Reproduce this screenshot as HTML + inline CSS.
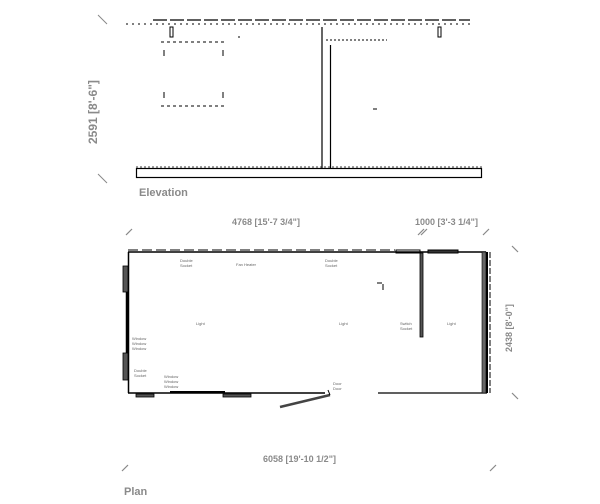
<!DOCTYPE html>
<html><head><style>
html,body{margin:0;padding:0;background:#fff;}
svg{display:block;}
text{font-family:"Liberation Sans",sans-serif;fill:#8a8a8a;font-weight:bold;}
.s{font-size:4px;fill:#666;font-weight:normal;}
</style></head><body>
<svg width="600" height="504" viewBox="0 0 600 504" xmlns="http://www.w3.org/2000/svg">
<!-- Elevation -->
<g stroke="#000" fill="none">
<path d="M153 20 H470" stroke-dasharray="14 3" stroke-width="1.2"/>
<path d="M126 24 H470" stroke-dasharray="2 4" stroke-width="1"/>
<rect x="136.5" y="168.5" width="345" height="9" stroke-width="1.2"/>
<path d="M136 167 H482" stroke-dasharray="2 2" stroke-width="0.8"/>
<line x1="322" y1="27" x2="322" y2="168" stroke-width="1.2"/>
<line x1="330.5" y1="45" x2="330.5" y2="168" stroke-width="1.2"/>
<path d="M326 40 H387" stroke-dasharray="2 2"/>
<path d="M161 42 H225 M161 106 H225" stroke-dasharray="3 3"/>
<path d="M164 50 V56 M223 50 V56 M164 92 V98 M223 92 V98"/>
<rect x="170" y="27" width="3" height="10"/>
<rect x="438" y="27" width="3" height="10"/>
<line x1="239" y1="36" x2="239" y2="38"/>
<line x1="373" y1="109" x2="377" y2="109"/>
</g>
<line x1="98" y1="15" x2="107" y2="24" stroke="#888"/>
<line x1="98" y1="174" x2="107" y2="183" stroke="#888"/>
<text x="0" y="0" font-size="12" transform="translate(97,144) rotate(-90)">2591 [8'-6"]</text>
<text x="139" y="196" font-size="11">Elevation</text>
<!-- Plan -->
<text x="232" y="225" font-size="9" font-weight="normal">4768 [15'-7 3/4"]</text>
<text x="415" y="225" font-size="9" font-weight="normal">1000 [3'-3 1/4"]</text>
<g stroke="#888" stroke-width="1.2">
<line x1="126" y1="235" x2="132" y2="229"/>
<line x1="418" y1="235" x2="424" y2="229"/><line x1="421" y1="235" x2="427" y2="229"/>
<line x1="483" y1="235" x2="489" y2="229"/>
<line x1="512" y1="246" x2="518" y2="252"/>
<line x1="512" y1="393" x2="518" y2="399"/>
<line x1="122" y1="471" x2="128" y2="465"/>
<line x1="490" y1="471" x2="496" y2="465"/>
</g>
<text x="0" y="0" font-size="9" transform="translate(512,352) rotate(-90)">2438 [8'-0"]</text>
<text x="263" y="462" font-size="9" font-weight="normal">6058 [19'-10 1/2"]</text>
<text x="124" y="495" font-size="11">Plan</text>
<g stroke="#000" fill="none">
<path d="M128 252 H486" stroke-width="1.5"/>
<path d="M128 250 H395" stroke-dasharray="10 4" stroke-width="1"/>
<path d="M128.5 252 V393" stroke-width="1.5"/>
<path d="M127 292 V353" stroke-width="2.5"/>
<path d="M128 393 H325" stroke-width="1.5"/>
<path d="M378 393 H487" stroke-width="1.2"/>
<path d="M487 252 V393" stroke-width="2"/>
<path d="M490 252 V393" stroke-width="1" stroke-dasharray="6 2"/>
<rect x="420" y="253" width="3" height="84" fill="#555" stroke-width="0.8"/>
<rect x="123" y="266" width="5" height="26" fill="#555" stroke-width="0.8"/>
<rect x="123" y="353" width="5" height="27" fill="#555" stroke-width="0.8"/>
<rect x="136" y="394" width="18" height="3" fill="#555" stroke-width="0.8"/>
<rect x="223" y="394" width="28" height="3" fill="#555" stroke-width="0.8"/>
<path d="M170 392 H225" stroke-width="2"/>
<path d="M280 407 L330 395" stroke-width="2.5" stroke="#444"/>
<path d="M330 395 L328 390"/>
<rect x="396" y="250" width="24" height="3"/>
<rect x="428" y="250" width="30" height="3" fill="#333"/>
<rect x="482" y="252" width="4" height="141" fill="#666" stroke-width="0.6"/>
<line x1="383" y1="284" x2="383" y2="290"/>
<line x1="377" y1="283" x2="382" y2="283"/>
</g>
<text class="s" x="180" y="262">Double</text><text class="s" x="180" y="267">Socket</text>
<text class="s" x="236" y="266">Fan Heater</text>
<text class="s" x="325" y="262">Double</text><text class="s" x="325" y="267">Socket</text>
<text class="s" x="196" y="325">Light</text>
<text class="s" x="339" y="325">Light</text>
<text class="s" x="400" y="325">Switch</text><text class="s" x="400" y="330">Socket</text>
<text class="s" x="447" y="325">Light</text>
<text class="s" x="132" y="340">Window</text><text class="s" x="132" y="345">Window</text><text class="s" x="132" y="350">Window</text>
<text class="s" x="134" y="372">Double</text><text class="s" x="134" y="377">Socket</text>
<text class="s" x="164" y="378">Window</text><text class="s" x="164" y="383">Window</text><text class="s" x="164" y="388">Window</text>
<text class="s" x="333" y="385">Door</text><text class="s" x="333" y="390">Door</text>
</svg>
</body></html>
